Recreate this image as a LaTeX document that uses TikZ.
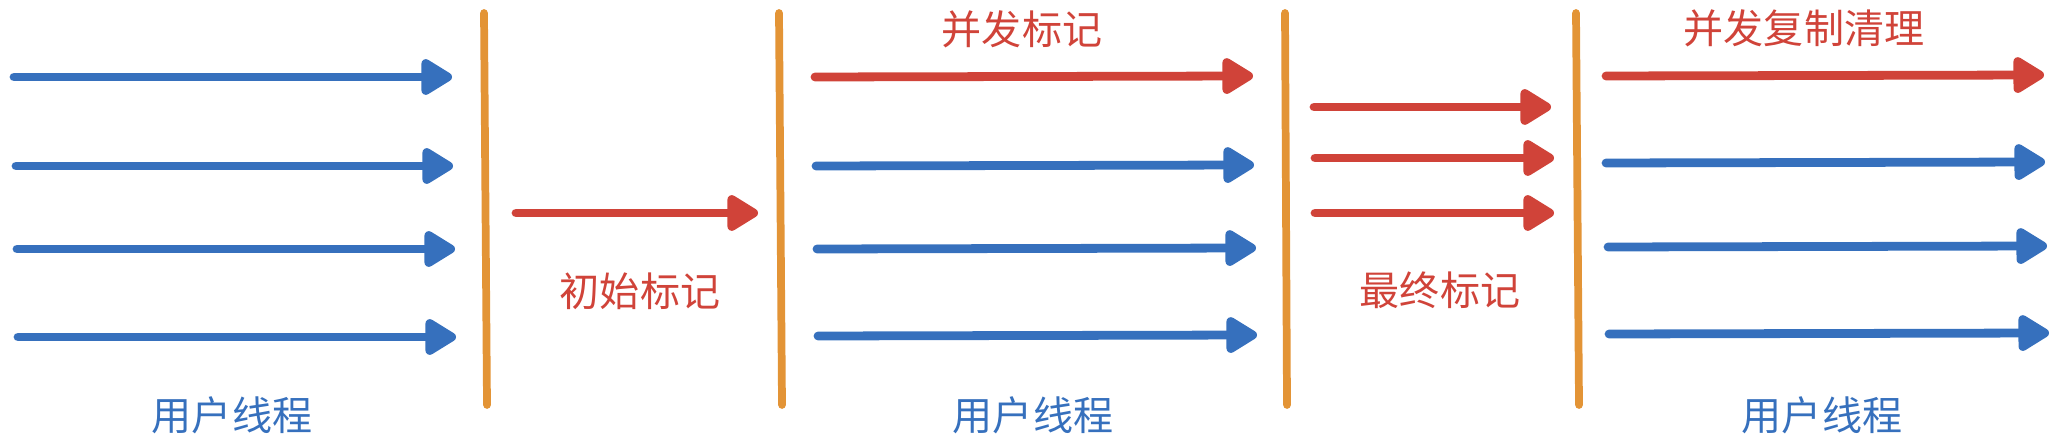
\documentclass[tikz,border=0pt]{standalone}
\usepackage{fontspec}
\newfontfamily\cjk{Noto Sans CJK SC}
\usetikzlibrary{arrows.meta}
\definecolor{xblue}{HTML}{3670BD}
\definecolor{xred}{HTML}{D04339}
\definecolor{xorange}{HTML}{E39436}
\tikzset{
  thread/.style={line width=2.5pt, line cap=round, -{Triangle[length=3.5mm,width=4mm,round]}},
  pause/.style={line width=2.2pt, line cap=round, color=xorange},
  lbl/.style={font=\cjk\fontsize{11.4}{13}\selectfont, inner sep=0pt}
}
\newcommand{\drawu}{\draw[thread, color=xblue]}
\newcommand{\drawg}{\draw[thread, color=xred]}
\newcommand{\drawp}{\draw[pause]}

\begin{document}
\begin{tikzpicture}
\useasboundingbox (0,0) rectangle (20.56,4.42);
%\draw[color=blue] (0,0) grid (20,4); %luoi

%Luong nguoi dung 1
\drawu (0.14,3.65) -- (4.52,3.65);
\drawu (0.16,2.76) -- (4.53,2.76);
\drawu (0.17,1.93) -- (4.55,1.93);
\drawu (0.18,1.05) -- (4.56,1.05);
\node[lbl, text=xblue] (user1) at (2.32,0.27) {用户线程};

\drawp (4.84,4.29) -- (4.87,0.37); %Diem dung 1

%Danh dau ban dau
\drawg (5.16,2.29) -- (7.58,2.29);
\node[lbl, text=xred] (initmark) at (6.40,1.51) {初始标记};

\drawp (7.79,4.29) -- (7.82,0.37); %Diem dung 2

%Danh dau dong thoi
\drawg (8.15,3.65) -- (12.53,3.66);
\drawu (8.16,2.76) -- (12.54,2.77);
\drawu (8.17,1.93) -- (12.56,1.94);
\drawu (8.18,1.06) -- (12.57,1.07);
\node[lbl, text=xred] (concmark) at (10.22,4.13) {并发标记};
\node[lbl, text=xblue] (user2) at (10.33,0.27) {用户线程};

\drawp (12.85,4.29) -- (12.87,0.37); %Diem dung 3

%Danh dau cuoi cung
\drawg (13.14,3.35) -- (15.51,3.35);
\drawg (13.15,2.84) -- (15.54,2.84);
\drawg (13.15,2.29) -- (15.54,2.29);
\node[lbl, text=xred] (finalmark) at (14.40,1.52) {最终标记};

\drawp (15.76,4.29) -- (15.79,0.37); %Diem dung 4

%Sao chep don dep dong thoi
\drawg (16.06,3.66) -- (20.44,3.67);
\drawu (16.06,2.79) -- (20.45,2.80);
\drawu (16.08,1.95) -- (20.47,1.96);
\drawu (16.09,1.08) -- (20.49,1.09);
\node[lbl, text=xred] (copyclean) at (18.04,4.14) {并发复制清理};
\node[lbl, text=xblue] (user3) at (18.22,0.27) {用户线程};
\end{tikzpicture}
\end{document}
